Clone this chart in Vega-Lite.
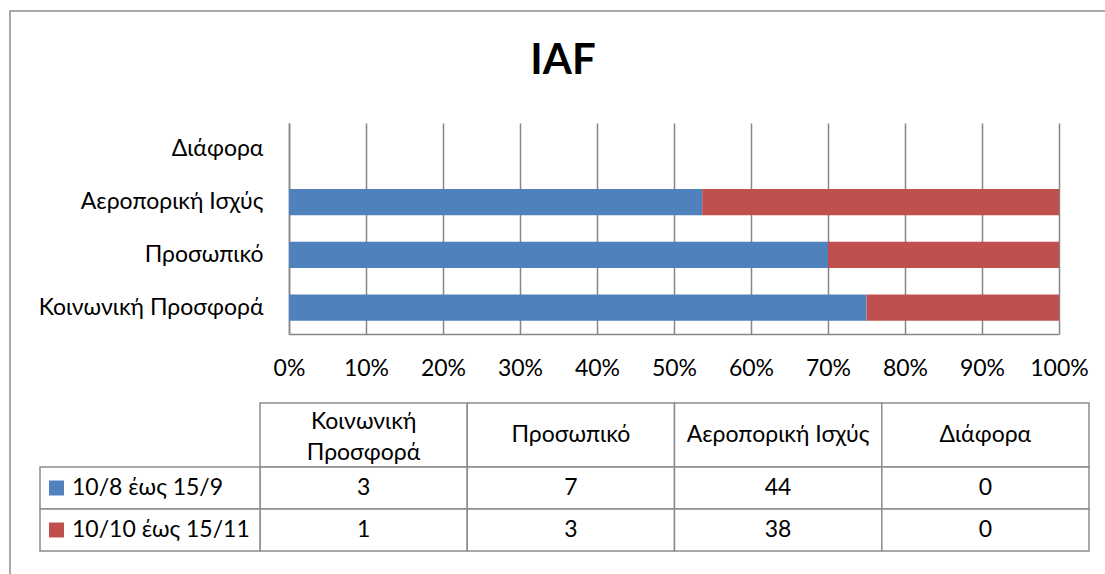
{
  "$schema": "https://vega.github.io/schema/vega-lite/v6.json",
  "width": 770,
  "height": 211,
  "autosize": {"type": "none"},
  "padding": {"left": 289, "top": 123, "right": 46, "bottom": 240},
  "background": "white",
  "config": {
    "view": {"stroke": null},
    "font": "Lato",
    "text": {"font": "Lato", "fontSize": 23, "color": "black"}
  },
  "title": {
    "text": "IAF",
    "font": "Lato",
    "fontSize": 42,
    "fontWeight": "bold",
    "color": "black",
    "anchor": "middle",
    "frame": "group",
    "baseline": "alphabetic",
    "offset": -106,
    "dx": -111
  },
  "datasets": {
    "rows": [
      {"category": "Κοινωνική Προσφορά", "header": "Κοινωνική\nΠροσφορά", "series": "10/8 έως 15/9", "value": 3},
      {"category": "Κοινωνική Προσφορά", "header": "Κοινωνική\nΠροσφορά", "series": "10/10 έως 15/11", "value": 1},
      {"category": "Προσωπικό", "header": "Προσωπικό", "series": "10/8 έως 15/9", "value": 7},
      {"category": "Προσωπικό", "header": "Προσωπικό", "series": "10/10 έως 15/11", "value": 3},
      {"category": "Αεροπορική Ισχύς", "header": "Αεροπορική Ισχύς", "series": "10/8 έως 15/9", "value": 44},
      {"category": "Αεροπορική Ισχύς", "header": "Αεροπορική Ισχύς", "series": "10/10 έως 15/11", "value": 38},
      {"category": "Διάφορα", "header": "Διάφορα", "series": "10/8 έως 15/9", "value": 0},
      {"category": "Διάφορα", "header": "Διάφορα", "series": "10/10 έως 15/11", "value": 0}
    ]
  },
  "data": {"name": "rows"},
  "layer": [
    {
      "transform": [{"filter": "datum.category === 'Διάφορα' && datum.series === '10/8 έως 15/9'"}],
      "mark": {"type": "rect", "fill": null, "stroke": "#8c8c8c", "strokeWidth": 1.5},
      "encoding": {
        "x": {
          "datum": "frame",
          "type": "nominal",
          "scale": {"domain": ["frame"], "range": [-279, 840], "paddingInner": 0, "paddingOuter": 0},
          "axis": null
        },
        "y": {
          "datum": "frame",
          "type": "nominal",
          "scale": {"domain": ["frame"], "range": [-112, 470], "paddingInner": 0, "paddingOuter": 0},
          "axis": null
        }
      }
    },
    {
      "mark": {"type": "bar"},
      "encoding": {
        "y": {
          "field": "category",
          "type": "nominal",
          "scale": {
            "domain": ["Διάφορα", "Αεροπορική Ισχύς", "Προσωπικό", "Κοινωνική Προσφορά"],
            "paddingInner": 0.5,
            "paddingOuter": 0.25
          },
          "axis": {
            "title": null,
            "domain": true,
            "domainColor": "#868686",
            "domainWidth": 1.5,
            "ticks": false,
            "tickSize": 0,
            "labelPadding": 26,
            "labelFontSize": 23,
            "labelFont": "Lato",
            "labelColor": "black",
            "labelLimit": 500
          }
        },
        "x": {
          "field": "value",
          "type": "quantitative",
          "stack": "normalize",
          "scale": {"domain": [0, 1], "nice": false},
          "axis": {
            "title": null,
            "format": "%",
            "tickCount": 10,
            "grid": true,
            "gridColor": "#868686",
            "gridWidth": 1.5,
            "domain": true,
            "domainColor": "#868686",
            "domainWidth": 1.5,
            "ticks": false,
            "tickSize": 0,
            "labelPadding": 23,
            "labelFontSize": 23,
            "labelFont": "Lato",
            "labelColor": "black",
            "labelFlush": false
          }
        },
        "color": {
          "field": "series",
          "type": "nominal",
          "scale": {"domain": ["10/8 έως 15/9", "10/10 έως 15/11"], "range": ["#4F81BD", "#C0504D"]},
          "legend": null
        },
        "order": {"field": "series", "sort": "descending"}
      }
    },
    {
      "transform": [{"filter": "datum.series === '10/8 έως 15/9'"}],
      "mark": {"type": "rect", "fill": "white", "stroke": "#8c8c8c", "strokeWidth": 1.5},
      "encoding": {
        "x": {
          "field": "category",
          "type": "nominal",
          "scale": {"domain": ["Κοινωνική Προσφορά", "Προσωπικό", "Αεροπορική Ισχύς", "Διάφορα"], "range": [-29, 800], "paddingInner": 0, "paddingOuter": 0},
          "axis": null
        },
        "y": {
          "datum": "header",
          "type": "nominal",
          "scale": {"domain": ["header"], "range": [280, 344], "paddingInner": 0, "paddingOuter": 0},
          "axis": null
        }
      }
    },
    {
      "transform": [{"filter": "datum.series === '10/8 έως 15/9' && datum.category !== 'Κοινωνική Προσφορά'"}],
      "mark": {"type": "text", "baseline": "middle", "align": "center", "fontSize": 23},
      "encoding": {
        "x": {
          "field": "category",
          "type": "nominal",
          "scale": {"domain": ["Κοινωνική Προσφορά", "Προσωπικό", "Αεροπορική Ισχύς", "Διάφορα"], "range": [-29, 800], "paddingInner": 0, "paddingOuter": 0},
          "axis": null
        },
        "y": {
          "datum": "header",
          "type": "nominal",
          "scale": {"domain": ["header"], "range": [280, 344], "paddingInner": 0, "paddingOuter": 0},
          "axis": null
        },
        "text": {"field": "header"}
      }
    },
    {
      "transform": [{"filter": "datum.series === '10/8 έως 15/9' && datum.category === 'Κοινωνική Προσφορά'"}],
      "mark": {"type": "text", "lineBreak": "\n", "lineHeight": 31, "baseline": "middle", "align": "center", "fontSize": 23, "dy": -13},
      "encoding": {
        "x": {
          "field": "category",
          "type": "nominal",
          "scale": {"domain": ["Κοινωνική Προσφορά", "Προσωπικό", "Αεροπορική Ισχύς", "Διάφορα"], "range": [-29, 800], "paddingInner": 0, "paddingOuter": 0},
          "axis": null
        },
        "y": {
          "datum": "header",
          "type": "nominal",
          "scale": {"domain": ["header"], "range": [280, 344], "paddingInner": 0, "paddingOuter": 0},
          "axis": null
        },
        "text": {"field": "header"}
      }
    },
    {
      "mark": {"type": "rect", "fill": "white", "stroke": "#8c8c8c", "strokeWidth": 1.5},
      "encoding": {
        "x": {
          "field": "category",
          "type": "nominal",
          "scale": {"domain": ["Κοινωνική Προσφορά", "Προσωπικό", "Αεροπορική Ισχύς", "Διάφορα"], "range": [-29, 800], "paddingInner": 0, "paddingOuter": 0},
          "axis": null
        },
        "y": {
          "field": "series",
          "type": "nominal",
          "scale": {"domain": ["10/8 έως 15/9", "10/10 έως 15/11"], "range": [344, 428], "paddingInner": 0, "paddingOuter": 0},
          "axis": null
        }
      }
    },
    {
      "mark": {"type": "text", "baseline": "middle", "align": "center", "fontSize": 23},
      "encoding": {
        "x": {
          "field": "category",
          "type": "nominal",
          "scale": {"domain": ["Κοινωνική Προσφορά", "Προσωπικό", "Αεροπορική Ισχύς", "Διάφορα"], "range": [-29, 800], "paddingInner": 0, "paddingOuter": 0},
          "axis": null
        },
        "y": {
          "field": "series",
          "type": "nominal",
          "scale": {"domain": ["10/8 έως 15/9", "10/10 έως 15/11"], "range": [344, 428], "paddingInner": 0, "paddingOuter": 0},
          "axis": null
        },
        "text": {"field": "value", "type": "quantitative"}
      }
    },
    {
      "transform": [{"filter": "datum.category === 'Διάφορα'"}],
      "mark": {"type": "rect", "fill": "white", "stroke": "#8c8c8c", "strokeWidth": 1.5},
      "encoding": {
        "x": {
          "datum": "legend",
          "type": "nominal",
          "scale": {"domain": ["legend"], "range": [-249, -29], "paddingInner": 0, "paddingOuter": 0},
          "axis": null
        },
        "y": {
          "field": "series",
          "type": "nominal",
          "scale": {"domain": ["10/8 έως 15/9", "10/10 έως 15/11"], "range": [344, 428], "paddingInner": 0, "paddingOuter": 0},
          "axis": null
        }
      }
    },
    {
      "transform": [{"filter": "datum.category === 'Διάφορα'"}],
      "mark": {"type": "square", "filled": true, "size": 225, "opacity": 1},
      "encoding": {
        "x": {
          "datum": "legend",
          "type": "nominal",
          "scale": {"domain": ["legend"], "range": [-249, -216], "paddingInner": 0, "paddingOuter": 0},
          "axis": null
        },
        "y": {
          "field": "series",
          "type": "nominal",
          "scale": {"domain": ["10/8 έως 15/9", "10/10 έως 15/11"], "range": [344, 428], "paddingInner": 0, "paddingOuter": 0},
          "axis": null
        },
        "color": {"field": "series", "type": "nominal", "legend": null}
      }
    },
    {
      "transform": [{"filter": "datum.category === 'Διάφορα'"}],
      "mark": {"type": "text", "baseline": "middle", "align": "left", "fontSize": 23, "dx": -78},
      "encoding": {
        "x": {
          "datum": "legend",
          "type": "nominal",
          "scale": {"domain": ["legend"], "range": [-249, -29], "paddingInner": 0, "paddingOuter": 0},
          "axis": null
        },
        "y": {
          "field": "series",
          "type": "nominal",
          "scale": {"domain": ["10/8 έως 15/9", "10/10 έως 15/11"], "range": [344, 428], "paddingInner": 0, "paddingOuter": 0},
          "axis": null
        },
        "text": {"field": "series"}
      }
    }
  ],
  "resolve": {"scale": {"x": "independent", "y": "independent"}}
}
